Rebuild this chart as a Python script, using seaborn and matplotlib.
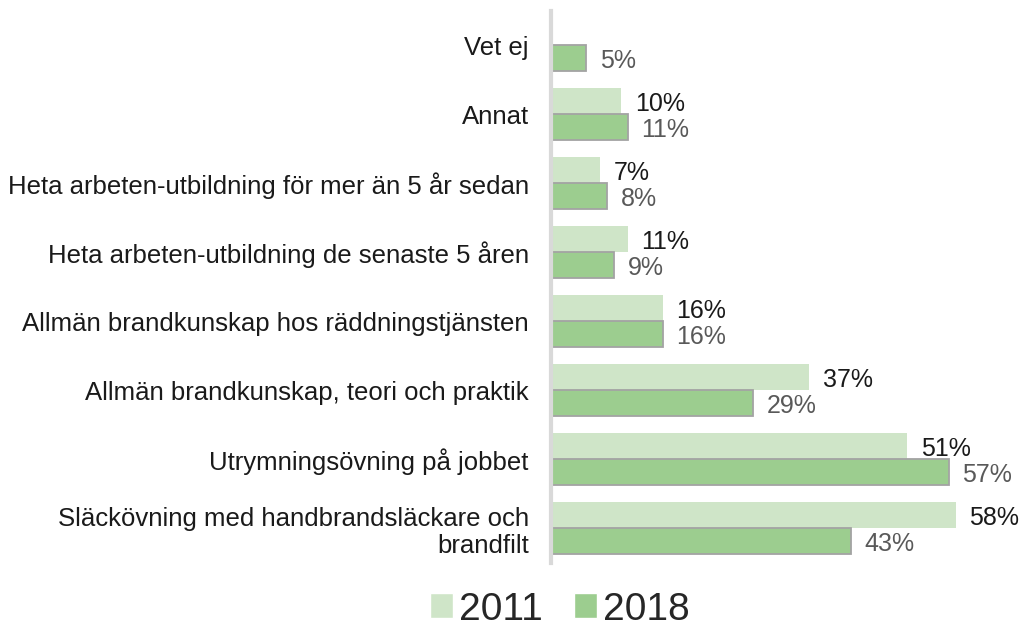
import numpy as np
import pandas as pd
import matplotlib.pyplot as plt
import seaborn as sns

categories = [
    "Vet ej",
    "Annat",
    "Heta arbeten-utbildning för mer än 5 år sedan",
    "Heta arbeten-utbildning de senaste 5 åren",
    "Allmän brandkunskap hos räddningstjänsten",
    "Allmän brandkunskap, teori och praktik",
    "Utrymningsövning på jobbet",
    "Släckövning med handbrandsläckare och\nbrandfilt",
]
values_2011 = [np.nan, 10, 7, 11, 16, 37, 51, 58]
values_2018 = [5, 11, 8, 9, 16, 29, 57, 43]
years = ["2011", "2018"]

df = pd.DataFrame({
    "kategori": categories * 2,
    "år": [years[0]] * len(categories) + [years[1]] * len(categories),
    "andel": values_2011 + values_2018,
})

sns.set_style("white")
plt.rcParams["font.family"] = ["Liberation Sans", "DejaVu Sans"]

fig = plt.figure(figsize=(10.23, 6.28), dpi=100)
ax = fig.add_axes([0.5386, 0.104, 0.45, 0.879])

sns.barplot(data=df, y="kategori", x="andel", hue="år", order=categories,
            hue_order=years, palette=["#cfe5c8", "#9ccd8f"], saturation=1,
            width=0.76, orient="h", ax=ax, legend=True)

label_colors = ["#1a1a1a", "#595959"]
for i, (cont, col) in enumerate(zip(ax.containers, label_colors)):
    for bar in cont:
        if bar is None:
            continue
        w = bar.get_width()
        if np.isnan(w):
            continue
        if i == 1:
            bar.set_edgecolor("#a3a3a3")
            bar.set_linewidth(1.3)
        else:
            bar.set_linewidth(0)
        ax.annotate(f"{w:.0f}%", (w, bar.get_y() + bar.get_height() / 2),
                    xytext=(10, -2), textcoords="offset points",
                    ha="left", va="center", fontsize=18, color=col)

ax.set_xlim(0, 66)
ax.set_ylim(7.5, -0.5)
ax.set_xlabel("")
ax.set_ylabel("")
ax.set_xticks([])
ax.tick_params(axis="y", length=0, pad=16, labelsize=18.5, labelcolor="#1a1a1a")
for s in ["top", "right", "bottom"]:
    ax.spines[s].set_visible(False)
ax.spines["left"].set_color("#d9d9d9")
ax.spines["left"].set_linewidth(3)

handles, labels = ax.get_legend_handles_labels()
ax.get_legend().remove()
fig.legend(handles, labels, loc="lower center", bbox_to_anchor=(0.547, -0.055),
           ncol=2, frameon=False, fontsize=28, handlelength=0.6,
           handleheight=0.6, handletextpad=0.15, columnspacing=0.8)

fig.savefig("out.png", dpi=100, facecolor="white")
